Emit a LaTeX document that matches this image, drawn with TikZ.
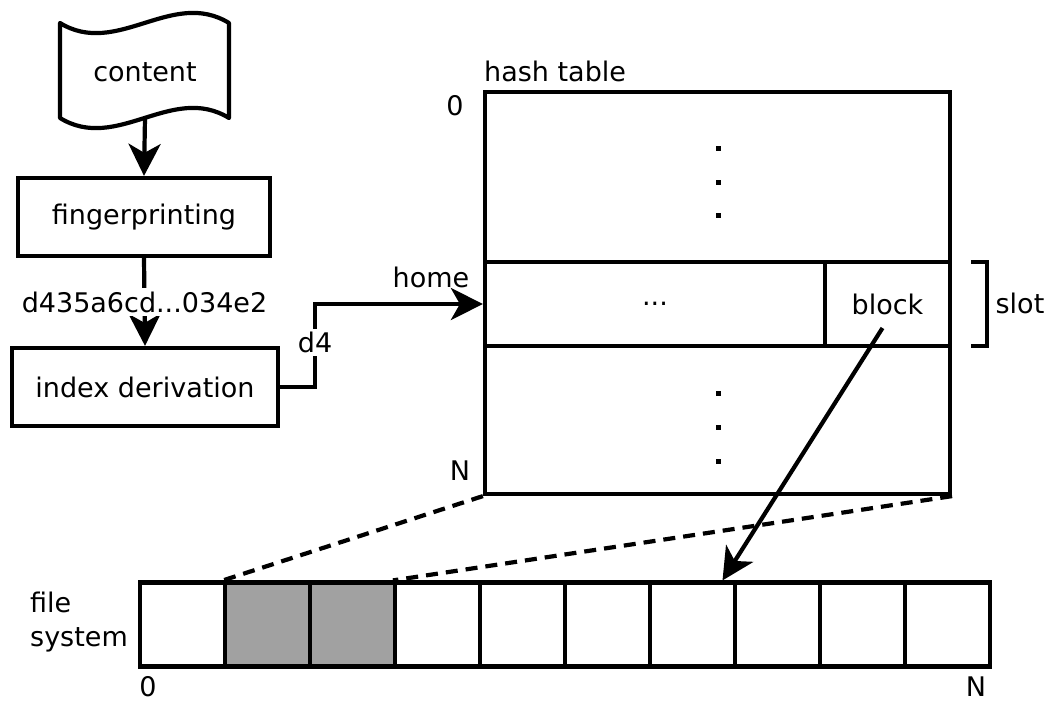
\documentclass[tikz,border=0pt]{standalone}
\usepackage{fontspec}
\setmainfont{DejaVu Sans}
\usetikzlibrary{arrows.meta,calc}
\tikzset{
  x=1pt, y=-1pt,
  every node/.style={font=\fontsize{27}{34}\selectfont, inner sep=0pt},
  thick line/.style={line width=4.2pt},
  stepbox/.style={draw, thick line, minimum width=#1, minimum height=78pt},
  cell/.style={draw, thick line, anchor=center},
  fscell/.style={draw, thick line, minimum width=85pt, minimum height=84pt},
  used/.style={fill=black!37},
  flow/.style={thick line, -{Stealth[length=32pt, width=32pt, inset=9pt]}},
  zoomline/.style={thick line, dash pattern=on 12pt off 8pt},
  dotmark/.style={fill=black},
}
\begin{document}
\begin{tikzpicture}
\useasboundingbox (0,0) rectangle (1053,702);

% source document shape
\draw[thick line, line join=round]
  (60,23) .. controls (117,58) and (172,-12) .. (229,23)
  -- (229,118) .. controls (172,83) and (117,153) .. (60,118) -- cycle;
\node (content) at (145,72) {content};
\coordinate (content-b) at (145,118);

% processing steps
\node[stepbox=252pt] (fp) at (144,217) {fingerprinting};
\node[stepbox=266pt] (idx) at (145,387) {index derivation};

\draw[flow] (content-b) -- (fp.north);
\draw[flow] (fp.south) -- node[fill=white, inner sep=4pt] {d435a6cd...034e2} (idx.north);

% hash table
\node[cell, minimum width=465pt, minimum height=170pt] (htop) at (717.5,177) {};
\node[cell, minimum width=340pt, minimum height=84pt] (hmid) at (655,304) {...};
\node[cell, minimum width=125pt, minimum height=84pt] (hblock) at (887.5,304) {block};
\node[cell, minimum width=465pt, minimum height=148pt] (hbot) at (717.5,420) {};

\node[anchor=west] (htitle) at (484,71) {hash table};
\node (hzero) at (455,106) {0};
\node (hN) at (460,471) {N};

\foreach \y in {148,182,215,393,427,461}
  \fill[dotmark] (715.5,\y-2.5) rectangle ++(5,5);

% slot bracket
\draw[thick line] (971,262) -- (987,262) -- (987,346) -- (971,346);
\node (slot) at (1020,303) {slot};

% index to home slot
\draw[flow] (idx.east) -- ++(35,0) |- node[pos=0.27, fill=white, inner sep=3pt] (d4) {d4} (hmid.west);
\node (home) at (431,277) {home};

% file system blocks
\foreach \i in {0,...,9}
  \node[fscell] (f\i) at (182.5+85*\i,624.5) {};
\fill[used] (f1.north west) rectangle (f2.south east);
\foreach \i in {1,2}
  \node[fscell] at (f\i) {};

\node[align=left] (fslabel) at (79,622) {file\\system};
\node (fzero) at (148,687) {0};
\node (fN) at (976,687) {N};

% mapping of the table onto the disk
\draw[zoomline] (hbot.south west) -- (f1.north west);
\draw[zoomline] (hbot.south east) -- (f3.north west);

% block pointer
\coordinate (bstart) at ($(hblock.center)+(-5,24)$);
\draw[flow] (bstart) -- ($(f6.north)+(30,0)$);
\end{tikzpicture}
\end{document}
